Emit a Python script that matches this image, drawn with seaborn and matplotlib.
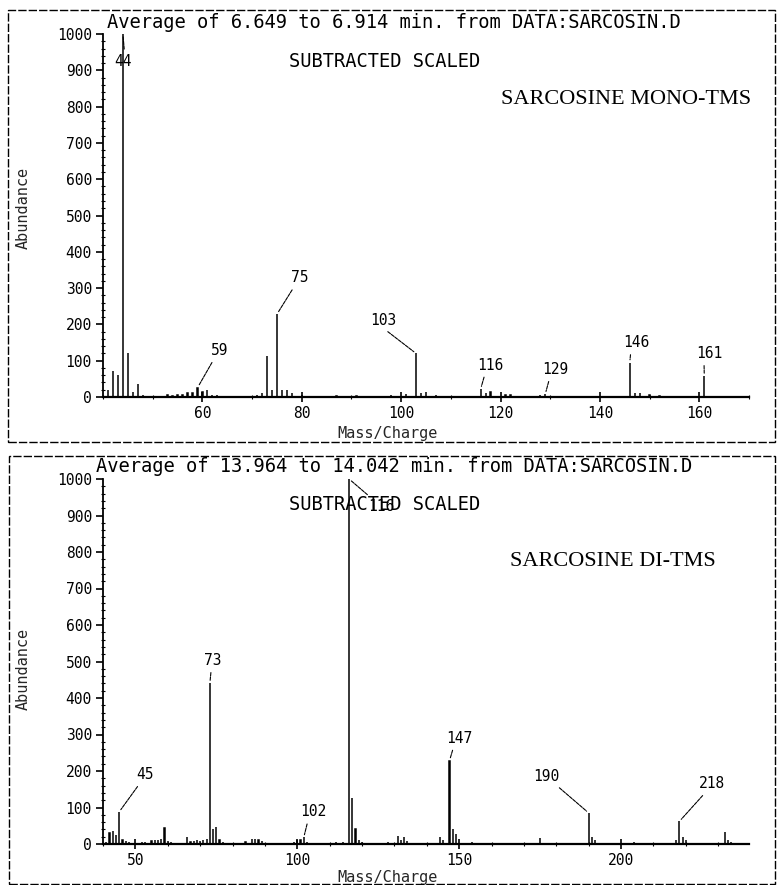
import numpy as np
import pandas as pd
import matplotlib
matplotlib.use("Agg")
import matplotlib.pyplot as plt
import seaborn as sns
from matplotlib.patches import Rectangle
from matplotlib.ticker import MultipleLocator

# ---------------- data ----------------
mono_mz = [41, 42, 43, 44, 45, 46, 47, 48, 50, 51, 52, 53, 54, 55, 56, 57, 58, 59, 60,
           61, 62, 63, 64, 71, 72, 73, 74, 75, 76, 77, 78, 80, 81, 84, 87, 91, 95, 98,
           101, 102, 103, 104, 105, 107, 112, 116, 117, 118, 121, 122, 128, 129, 131,
           146, 147, 148, 150, 152, 161, 163]
mono_ab = [20, 72, 60, 1000, 120, 15, 35, 5, 3, 4, 3, 5, 4, 5, 6, 10, 12, 25, 15,
           18, 6, 5, 4, 6, 10, 112, 18, 228, 20, 18, 12, 6, 3, 3, 4, 4, 3, 5,
           8, 4, 120, 12, 15, 6, 3, 22, 12, 15, 5, 5, 5, 8, 4,
           95, 10, 12, 6, 3, 58, 4]
mono_labels = [44, 59, 75, 103, 116, 129, 146, 161]

di_mz = [41, 42, 43, 44, 45, 46, 47, 48, 50, 52, 53, 55, 56, 57, 58, 59, 60, 61,
         66, 67, 68, 69, 70, 71, 72, 73, 74, 75, 76, 77, 84, 86, 87, 88, 89, 90,
         95, 99, 100, 101, 102, 103, 108, 112, 114, 116, 117, 118, 119, 120,
         128, 131, 132, 133, 134, 144, 145, 147, 148, 149, 154, 175, 184,
         190, 191, 192, 204, 217, 218, 219, 220, 232, 233, 234]
di_ab = [5, 30, 35, 26, 88, 10, 8, 5, 4, 6, 5, 8, 10, 12, 15, 45, 8, 5,
         18, 6, 8, 10, 8, 12, 15, 440, 42, 46, 10, 5, 5, 15, 15, 12, 8, 4,
         4, 6, 12, 10, 18, 5, 4, 5, 6, 1000, 125, 42, 12, 5,
         5, 22, 12, 18, 8, 20, 10, 228, 40, 28, 5, 17, 4,
         85, 20, 12, 5, 10, 62, 18, 10, 32, 12, 6]
di_labels = [45, 73, 102, 116, 147, 190, 218]

mono_title = "Average of 6.649 to 6.914 min. from DATA:SARCOSIN.D"
di_title = "Average of 13.964 to 14.042 min. from DATA:SARCOSIN.D"
sub_text = "SUBTRACTED SCALED"
mono_name = "SARCOSINE MONO-TMS"
di_name = "SARCOSINE DI-TMS"
y_ticks = [0, 100, 200, 300, 400, 500, 600, 700, 800, 900, 1000]
mono_xticks = [60, 80, 100, 120, 140, 160]
di_xticks = [50, 100, 150, 200]

# ---------------- layout (label text positions, leader attach) ----------------
mono_label_pos = {44: (44.0, 925, 0.6, 1), 59: (63.5, 128, 0.2, 0), 75: (79.5, 328, 0.25, 0),
                  103: (96.5, 212, 0.45, 0), 116: (118.0, 88, 0.3, 0),
                  129: (131.0, 76, 0.3, 0), 146: (147.3, 150, 0.3, 0), 161: (162.0, 120, 0.3, 0)}
di_label_pos = {45: (53.0, 190, 0.25, 0), 73: (74.0, 503, 0.4, 0), 102: (105.0, 88, 0.3, 0),
                116: (126.0, 925, 0.15, 1), 147: (150.0, 290, 0.3, 0),
                190: (177.0, 186, 0.8, 0), 218: (228.0, 165, 0.3, 0)}

sns.set_theme(style="ticks")
plt.rcParams['font.family'] = ['DejaVu Sans Mono', 'DejaVu Sans']
plt.rcParams['axes.edgecolor'] = 'black'
plt.rcParams['text.color'] = 'black'
plt.rcParams['xtick.color'] = 'black'
plt.rcParams['ytick.color'] = 'black'

W, H = 777, 885
fig = plt.figure(figsize=(W / 100, H / 100), dpi=100)
fig.patch.set_facecolor('white')

def px(x0, y0, x1, y1):
    # pixel box (top-left origin) -> figure fraction rect
    return [x0 / W, 1 - y1 / H, (x1 - x0) / W, (y1 - y0) / H]

# outer frames
for (x0, y0, x1, y1) in [(8, 10, 775, 442), (9, 456, 775, 884)]:
    fig.patches.append(Rectangle((x0 / W, 1 - y1 / H), (x1 - x0) / W, (y1 - y0) / H,
                                 transform=fig.transFigure, fill=False,
                                 edgecolor='black', linewidth=1.0,
                                 linestyle=(0, (6, 1.5))))

panels = [
    dict(mz=mono_mz, ab=mono_ab, labels=mono_labels, lpos=mono_label_pos,
         rect=px(103, 34, 749, 397), xlim=(40, 170), xticks=mono_xticks, xminor=10,
         title=mono_title, title_y=23, name=mono_name, name_xy=(0.81, 0.82),
         sub_y=0.925, ylab_y=0.52, xlab_y=-0.08),
    dict(mz=di_mz, ab=di_ab, labels=di_labels, lpos=di_label_pos,
         rect=px(103, 479, 749, 844), xlim=(40, 239.5), xticks=di_xticks, xminor=10,
         title=di_title, title_y=466, name=di_name, name_xy=(0.79, 0.775),
         sub_y=0.93, ylab_y=0.48, xlab_y=-0.072),
]

tick_font = dict(family=['DejaVu Sans Mono', 'DejaVu Sans'], size=10.5)

for p in panels:
    ax = fig.add_axes(p['rect'])
    ax.set_facecolor('white')
    df = pd.DataFrame({'mz': p['mz'], 'abundance': p['ab']})
    sns.barplot(data=df, x='mz', y='abundance', native_scale=True, width=0.05,
                color='black', edgecolor='black', linewidth=1.1, errorbar=None,
                saturation=1, ax=ax)
    ax.set_xlim(*p['xlim'])
    ax.set_ylim(0, 1000)
    sns.despine(ax=ax)
    ax.spines['left'].set_linewidth(1.3)
    ax.spines['bottom'].set_linewidth(1.6)
    ax.set_yticks(y_ticks)
    ax.set_yticklabels([str(v) for v in y_ticks], **tick_font)
    ax.yaxis.set_minor_locator(MultipleLocator(20))
    ax.set_xticks(p['xticks'])
    ax.set_xticklabels([str(v) for v in p['xticks']], **tick_font)
    ax.xaxis.set_minor_locator(MultipleLocator(p['xminor']))
    ax.tick_params(axis='y', which='major', direction='out', length=5, width=1.2, pad=3)
    ax.tick_params(axis='y', which='minor', direction='inout', length=3, width=0.8)
    ax.tick_params(axis='x', which='major', direction='inout', length=7, width=1.2, pad=3)
    ax.tick_params(axis='x', which='minor', direction='inout', length=3, width=0.8)
    ax.set_xlabel("Mass/Charge", fontsize=11)
    ax.xaxis.set_label_coords(0.44, p['xlab_y'])
    ax.set_ylabel("Abundance", fontsize=11)
    ax.yaxis.set_label_coords(-0.112, p['ylab_y'])
    ax.grid(False)

    lookup = dict(zip(p['mz'], p['ab']))
    for m in p['labels']:
        tx, ty, rx, ry = p['lpos'][m]
        ax.annotate(str(m), xy=(m, lookup[m]), xytext=(tx, ty), textcoords='data',
                    ha='center', va='center', fontsize=10.5, annotation_clip=False,
                    arrowprops=dict(arrowstyle='-', lw=0.8, color='black',
                                    linestyle=(0, (3, 1)), relpos=(rx, ry),
                                    shrinkA=1, shrinkB=2))

    ax.text(0.4365, p['sub_y'], sub_text, transform=ax.transAxes, ha='center',
            va='center', fontsize=13.5)
    ax.text(p['name_xy'][0], p['name_xy'][1], p['name'], transform=ax.transAxes,
            ha='center', va='center', fontsize=16, family=['Liberation Serif'])
    fig.text(394 / W, 1 - p['title_y'] / H, p['title'], ha='center', va='center',
             fontsize=13.5)

fig.savefig("out.png", dpi=100, facecolor='white')
